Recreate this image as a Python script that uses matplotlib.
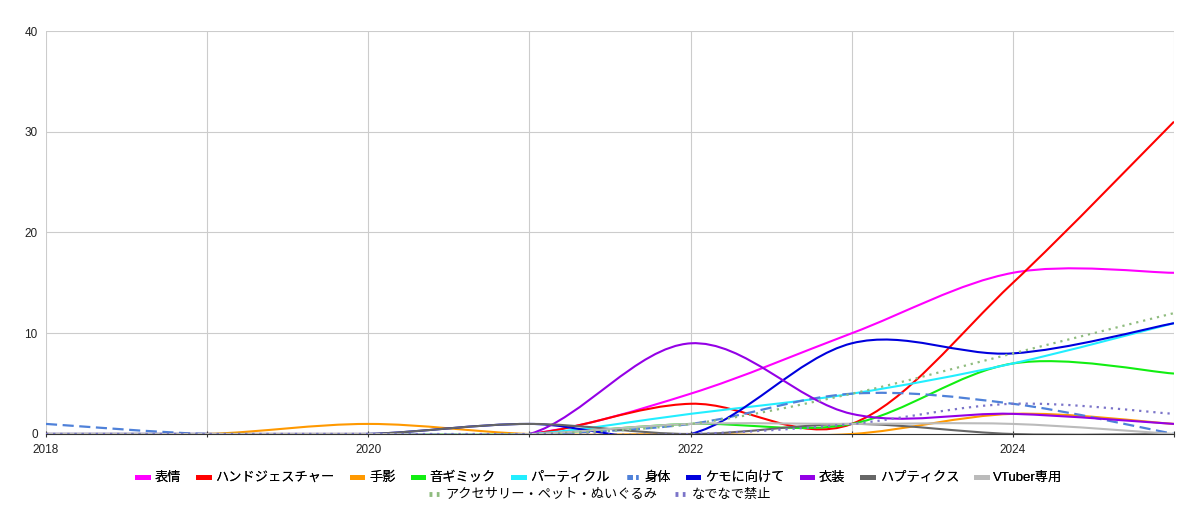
import matplotlib
matplotlib.use("Agg")
import matplotlib.pyplot as plt
from matplotlib.path import Path
from matplotlib.patches import PathPatch
from matplotlib.lines import Line2D
import numpy as np

plt.rcParams['font.family'] = ['Liberation Sans', 'Noto Sans CJK JP', 'DejaVu Sans']

years = [2018, 2019, 2020, 2021, 2022, 2023, 2024, 2025]

names = ["表情", "ハンドジェスチャー", "手影", "音ギミック", "パーティクル", "身体",
         "ケモに向けて", "衣装", "ハプティクス", "VTuber専用",
         "アクセサリー・ペット・ぬいぐるみ", "なでなで禁止"]

hyoujou      = [0, 0, 0, 0, 4, 10, 16, 16]
hand_gesture = [0, 0, 0, 0, 3, 1, 15, 31]
kage         = [0, 0, 1, 0, 0, 0, 2, 1]
oto_gimmick  = [0, 0, 0, 0, 1, 1, 7, 6]
particle     = [0, 0, 0, 0, 2, 4, 7, 11]
shintai      = [1, 0, 0, 0, 1, 4, 3, 0]
kemo         = [0, 0, 0, 1, 0, 9, 8, 11]
ishou        = [0, 0, 0, 0, 9, 2, 2, 1]
haptics      = [0, 0, 0, 1, 0, 1, 0, 0]
vtuber       = [0, 0, 0, 0, 1, 1, 1, 0]
accessory    = [0, 0, 0, 0, 1, 4, 8, 12]
nadenade     = [0, 0, 0, 0, 0, 1, 3, 2]

series = [hyoujou, hand_gesture, kage, oto_gimmick, particle, shintai,
          kemo, ishou, haptics, vtuber, accessory, nadenade]

colors = ["#ff00ff", "#ff0000", "#ff9900", "#11ee11", "#22eeff", "#4f81d9",
          "#0000dd", "#9400e6", "#666666", "#bbbbbb", "#8fbc7f", "#7b74c9"]
styles = ["solid", "solid", "solid", "solid", "solid", (0, (5, 2.5)),
          "solid", "solid", "solid", "solid", (0, (1, 2.2)), (0, (1, 2.2))]
legend_styles = ["solid", "solid", "solid", "solid", "solid", (0, (1.1, 0.7)),
                 "solid", "solid", "solid", "solid", (0, (0.6, 0.9)), (0, (0.6, 0.9))]

fig = plt.figure(figsize=(12, 5.28), dpi=100)
ax = fig.add_axes([46/1200, 1-434/528, (1174-46)/1200, (434-31)/528])


def smooth_path(xs, ys):
    xs = np.asarray(xs, float)
    ys = np.asarray(ys, float)
    n = len(xs)
    verts = [(xs[0], ys[0])]
    codes = [Path.MOVETO]
    for i in range(n - 1):
        i0 = max(i - 1, 0)
        i3 = min(i + 2, n - 1)
        c1 = (xs[i] + (xs[i+1] - xs[i0]) / 6, ys[i] + (ys[i+1] - ys[i0]) / 6)
        c2 = (xs[i+1] - (xs[i3] - xs[i]) / 6, ys[i+1] - (ys[i3] - ys[i]) / 6)
        verts += [c1, c2, (xs[i+1], ys[i+1])]
        codes += [Path.CURVE4] * 3
    return Path(verts, codes)


for vals, col, ls in zip(series, colors, styles):
    lw = 1.5 if ls == "solid" else 1.6
    p = PathPatch(smooth_path(years, vals), fill=False, edgecolor=col,
                  linewidth=lw, linestyle=ls, capstyle='butt', zorder=3)
    p.set_clip_on(True)
    ax.add_patch(p)

ax.set_xlim(2018, 2025)
ax.set_ylim(0, 40)
ax.set_yticks([0, 10, 20, 30, 40])
ax.set_xticks(years, minor=True)
ax.set_xticks([2018, 2020, 2022, 2024])
ax.grid(True, which='both', axis='x', color='#cccccc', linewidth=0.8, zorder=0)
ax.grid(True, which='major', axis='y', color='#cccccc', linewidth=0.8, zorder=0)
for s in ['top', 'right', 'left']:
    ax.spines[s].set_visible(False)
ax.spines['bottom'].set_color('#333333')
ax.spines['bottom'].set_linewidth(0.8)
ax.tick_params(axis='y', length=0, labelsize=8.5, pad=6, colors='#222222')
ax.tick_params(axis='x', which='both', length=5, direction='inout', width=0.8,
               color='#333333', labelsize=8.5, pad=5, labelcolor='#222222')
ax.set_axisbelow(True)

handles = []
for name, col, ls in zip(names, colors, legend_styles):
    handles.append(Line2D([0], [0], color=col, linestyle=ls, linewidth=3.5,
                          dash_capstyle='butt', label=name))

leg1 = fig.legend(handles=handles[:10], loc='center', bbox_to_anchor=(0.5, 1-478/528),
                  ncol=10, frameon=False, fontsize=9.5, handlelength=0.8,
                  handletextpad=0.5, columnspacing=1.3, borderpad=0)
leg2 = fig.legend(handles=handles[10:], loc='center', bbox_to_anchor=(0.5, 1-495/528),
                  ncol=2, frameon=False, fontsize=9.5, handlelength=0.8,
                  handletextpad=0.5, columnspacing=1.3, borderpad=0)
fig.add_artist(leg1)

fig.savefig("out.png", dpi=100)
